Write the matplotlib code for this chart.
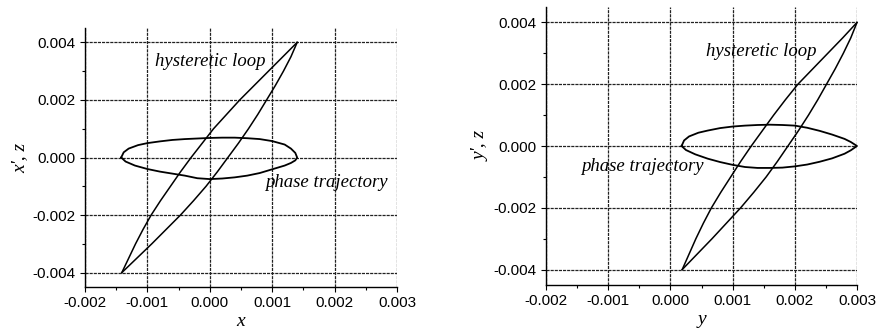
import matplotlib
matplotlib.use("Agg")
import matplotlib.pyplot as plt
from matplotlib.ticker import MultipleLocator, FormatStrFormatter

# ---------------- data ----------------
loop_z = [-0.0040, -0.0035, -0.0030, -0.0025, -0.0020, -0.0015, -0.0010, -0.0005,
          0.0000, 0.0005, 0.0010, 0.0015, 0.0020, 0.0025, 0.0030, 0.0035, 0.0040]

# left panel: hysteretic loop branches (x vs z)
loopL_up_x = [-0.00141, -0.00130, -0.00119, -0.00107, -0.00094, -0.00079, -0.00063, -0.00047,
              -0.00030, -0.00012, 0.00006, 0.00027, 0.00048, 0.00071, 0.00094, 0.00117, 0.00140]
loopL_lo_x = [-0.00141, -0.00117, -0.00093, -0.00070, -0.00047, -0.00026, -0.00006, 0.00012,
              0.00029, 0.00046, 0.00062, 0.00077, 0.00091, 0.00105, 0.00118, 0.00130, 0.00140]

# left panel: phase trajectory (x vs x')
phaseL_x = [-0.00142, -0.00138, -0.00130, -0.00115, -0.00100, -0.00080, -0.00060, -0.00040,
            -0.00020, 0.00000, 0.00020, 0.00040, 0.00060, 0.00080, 0.00100, 0.00120, 0.00130,
            0.00137, 0.00140,
            0.00137, 0.00130, 0.00120, 0.00100, 0.00080, 0.00060, 0.00040, 0.00020, 0.00000,
            -0.00020, -0.00040, -0.00060, -0.00080, -0.00100, -0.00120, -0.00135, -0.00142]
phaseL_v = [0.00000, 0.00018, 0.00031, 0.00043, 0.00050, 0.00056, 0.00061, 0.00064,
            0.00066, 0.00068, 0.00069, 0.00069, 0.00067, 0.00064, 0.00057, 0.00045, 0.00031,
            0.00016, 0.00000,
            -0.00010, -0.00019, -0.00028, -0.00041, -0.00054, -0.00063, -0.00069, -0.00073, -0.00075,
            -0.00072, -0.00063, -0.00056, -0.00049, -0.00040, -0.00028, -0.00014, 0.00000]

# right panel: hysteretic loop branches (y vs z)
loopR_up_y = [0.00019, 0.00030, 0.00041, 0.00053, 0.00066, 0.00081, 0.00097, 0.00113,
              0.00130, 0.00148, 0.00166, 0.00185, 0.00205, 0.00229, 0.00253, 0.00277, 0.00300]
loopR_lo_y = [0.00019, 0.00043, 0.00067, 0.00090, 0.00113, 0.00134, 0.00154, 0.00172,
              0.00189, 0.00206, 0.00222, 0.00237, 0.00251, 0.00265, 0.00278, 0.00290, 0.00300]

# right panel: phase trajectory (y vs y')
phaseR_y = [0.00018, 0.00022, 0.00030, 0.00045, 0.00060, 0.00080, 0.00100, 0.00120, 0.00140,
            0.00160, 0.00180, 0.00200, 0.00220, 0.00240, 0.00260, 0.00280, 0.00290, 0.00300,
            0.00290, 0.00280, 0.00260, 0.00240, 0.00220, 0.00200, 0.00180, 0.00160, 0.00140,
            0.00120, 0.00100, 0.00080, 0.00060, 0.00040, 0.00025, 0.00018]
phaseR_v = [0.00000, 0.00018, 0.00031, 0.00043, 0.00050, 0.00058, 0.00063, 0.00066, 0.00068,
            0.00069, 0.00068, 0.00066, 0.00059, 0.00049, 0.00037, 0.00023, 0.00013, 0.00000,
            -0.00014, -0.00025, -0.00040, -0.00051, -0.00060, -0.00066, -0.00070, -0.00071, -0.00071,
            -0.00068, -0.00061, -0.00052, -0.00041, -0.00027, -0.00013, 0.00000]

xticks = [-0.002, -0.001, 0.000, 0.001, 0.002, 0.003]
yticks = [-0.004, -0.002, 0.000, 0.002, 0.004]

# ---------------- figure ----------------
fig = plt.figure(figsize=(8.78, 3.34), dpi=100)
W, H = 878.0, 334.0
axL = fig.add_axes([85 / W, (H - 287) / H, 312 / W, 259 / H])
axR = fig.add_axes([546 / W, (H - 285) / H, 311 / W, 278 / H])

serif = ["Liberation Serif", "DejaVu Serif"]
sans = ["Liberation Sans", "DejaVu Sans"]

def style(ax, xlabel, ylabel):
    ax.set_xlim(-0.002, 0.003)
    ax.set_ylim(-0.0045, 0.0045)
    ax.set_xticks(xticks)
    ax.set_yticks(yticks)
    ax.xaxis.set_minor_locator(MultipleLocator(0.0005))
    ax.yaxis.set_minor_locator(MultipleLocator(0.001))
    ax.xaxis.set_major_formatter(FormatStrFormatter('%.3f'))
    ax.yaxis.set_major_formatter(FormatStrFormatter('%.3f'))
    for s in ['top', 'right']:
        ax.spines[s].set_visible(False)
    for s in ['left', 'bottom']:
        ax.spines[s].set_linewidth(1.0)
    ax.tick_params(which='major', direction='out', length=3.5, width=0.8, pad=3,
                   labelsize=11)
    ax.tick_params(which='minor', direction='out', length=2.5, width=0.8)
    for lab in ax.get_xticklabels() + ax.get_yticklabels():
        lab.set_fontfamily(sans)
    ax.grid(True, which='major', color='#222222', linewidth=0.9,
            linestyle=(0, (2.5, 0.8)))
    ax.set_axisbelow(True)
    ax.set_xlabel(xlabel, fontfamily=serif, fontstyle='italic', fontsize=14, labelpad=2.5)
    ax.set_ylabel(ylabel, fontfamily=serif, fontstyle='italic', fontsize=14, labelpad=3)

# left panel
axL.plot(loopL_up_x, loop_z, color='black', lw=1.1)
axL.plot(loopL_lo_x, loop_z, color='black', lw=1.1)
axL.plot(phaseL_x, phaseL_v, color='black', lw=1.3)
axL.text(-0.00088, 0.00334, 'hysteretic loop', fontfamily=serif, fontstyle='italic',
         fontsize=13.5, va='center', ha='left')
axL.text(0.00088, -0.00086, 'phase trajectory', fontfamily=serif, fontstyle='italic',
         fontsize=13.5, va='center', ha='left')
style(axL, 'x', "x', z")

# right panel
axR.plot(loopR_up_y, loop_z, color='black', lw=1.1, clip_on=False)
axR.plot(loopR_lo_y, loop_z, color='black', lw=1.1, clip_on=False)
axR.plot(phaseR_y, phaseR_v, color='black', lw=1.3, clip_on=False)
axR.text(0.00057, 0.00305, 'hysteretic loop', fontfamily=serif, fontstyle='italic',
         fontsize=13.5, va='center', ha='left')
axR.text(-0.00143, -0.00067, 'phase trajectory', fontfamily=serif, fontstyle='italic',
         fontsize=13.5, va='center', ha='left')
style(axR, 'y', "y', z")

fig.savefig('out.png', dpi=100)
